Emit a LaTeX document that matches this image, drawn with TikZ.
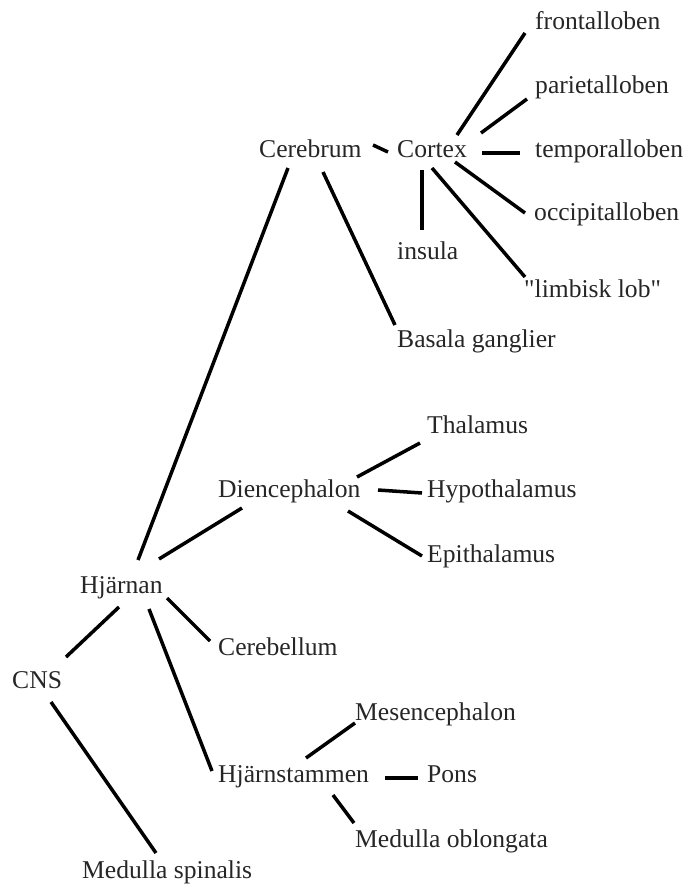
\documentclass[tikz,border=0pt]{standalone}
\usepackage{fontspec}
\setmainfont{Liberation Serif}
\newfontfamily\quotefont{Liberation Serif}

\begin{document}
\begin{tikzpicture}[x=1pt, y=-1pt,
        term/.style={anchor=base west, inner sep=0pt, text=black!85, font=\fontsize{25.6}{30}\selectfont},
        link/.style={line width=3.5pt}]
        \useasboundingbox (0, 0) rectangle (684, 884);

        % Cerebrum and Cortex
        \node[term] (cerebrum) at (259, 157) {Cerebrum};
        \node[term] (cortex) at (397, 157) {Cortex};
        \node[term] (insula) at (397, 259) {insula};
        \node[term] (basal) at (397, 347) {Basala ganglier};

        % Lobes to the right of the cortex
        \node[term] (frontal) at (535, 29) {frontalloben};
        \node[term] (parietal) at (535, 93) {parietalloben};
        \node[term] (temporal) at (535, 157) {temporalloben};
        \node[term] (occipital) at (534, 220) {occipitalloben};
        \node[term, font=\fontsize{25.6}{30}\quotefont] (limbic) at (524, 297) {"limbisk lob"};

        % Diencephalon
        \node[term] (dience) at (218, 497) {Diencephalon};
        \node[term] (thalamus) at (427, 433) {Thalamus};
        \node[term] (hypo) at (427, 497) {Hypothalamus};
        \node[term] (epi) at (427, 562) {Epithalamus};

        % Hjarnan, CNS and the lower parts
        \node[term] (hjarnan) at (80, 593) {Hjärnan};
        \node[term] (cerebellum) at (218, 655) {Cerebellum};
        \node[term] (cns) at (12, 688) {CNS};
        \node[term] (medspin) at (82, 878) {Medulla spinalis};

        % Hjarnstammen
        \node[term] (stem) at (218, 782) {Hjärnstammen};
        \node[term] (mesen) at (355, 720) {Mesencephalon};
        \node[term] (pons) at (427, 782) {Pons};
        \node[term] (medobl) at (355, 847) {Medulla oblongata};

        % Connections from the cortex
        \draw[link] ([shift={(114,-12)}]cerebrum.base west) -- ([shift={(-9,-5)}]cortex.base west);
        \draw[link] ([shift={(60,-22)}]cortex.base west) -- ([shift={(-10,4)}]frontal.base west);
        \draw[link] ([shift={(84,-24)}]cortex.base west) -- ([shift={(-8,6)}]parietal.base west);
        \draw[link] ([shift={(85,-4)}]cortex.base west) -- ([shift={(-15,-4)}]temporal.base west);
        \draw[link] ([shift={(58,5)}]cortex.base west) -- ([shift={(-9,-7)}]occipital.base west);
        \draw[link] ([shift={(35,11)}]cortex.base west) -- ([shift={(1,-20)}]limbic.base west);
        \draw[link] ([shift={(25,13)}]cortex.base west) -- ([shift={(25,-29)}]insula.base west);
        \draw[link] ([shift={(64,15)}]cerebrum.base west) -- ([shift={(-2,-22)}]basal.base west);

        % Connections from Hjarnan
        \draw[link] ([shift={(58,-33)}]hjarnan.base west) -- ([shift={(29,11)}]cerebrum.base west);
        \draw[link] ([shift={(79,-34)}]hjarnan.base west) -- ([shift={(24,11)}]dience.base west);
        \draw[link] ([shift={(39,14)}]hjarnan.base west) -- ([shift={(54,-31)}]cns.base west);
        \draw[link] ([shift={(87,5)}]hjarnan.base west) -- ([shift={(-8,-14)}]cerebellum.base west);
        \draw[link] ([shift={(69,16)}]hjarnan.base west) -- ([shift={(-6,-11)}]stem.base west);
        \draw[link] ([shift={(39,14)}]cns.base west) -- ([shift={(74,-25)}]medspin.base west);

        % Connections from the Diencephalon
        \draw[link] ([shift={(139,-20)}]dience.base west) -- ([shift={(-7,10)}]thalamus.base west);
        \draw[link] ([shift={(160,-7)}]dience.base west) -- ([shift={(-5,-4)}]hypo.base west);
        \draw[link] ([shift={(130,14)}]dience.base west) -- ([shift={(-5,-6)}]epi.base west);

        % Connections from Hjarnstammen
        \draw[link] ([shift={(88,-24)}]stem.base west) -- ([shift={(0,3)}]mesen.base west);
        \draw[link] ([shift={(167,-4)}]stem.base west) -- ([shift={(-9,-4)}]pons.base west);
        \draw[link] ([shift={(115,13)}]stem.base west) -- ([shift={(-1,-24)}]medobl.base west);

    \end{tikzpicture}
\end{document}
